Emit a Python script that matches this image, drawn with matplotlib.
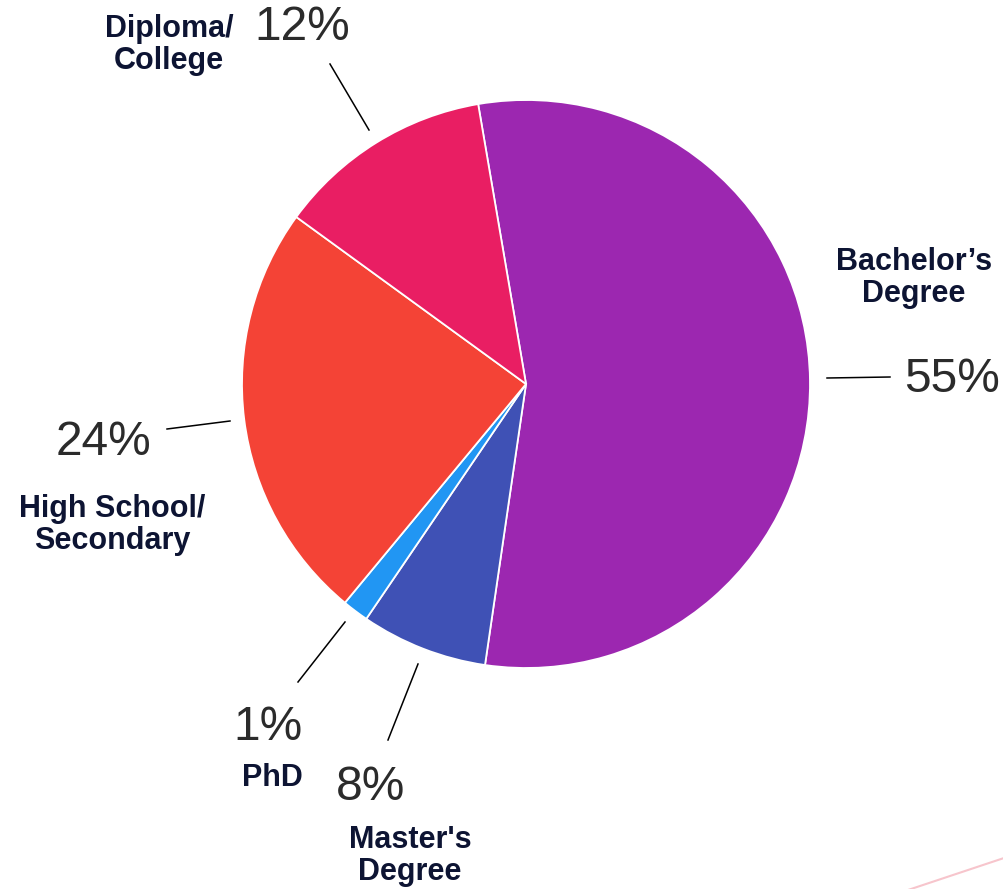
import matplotlib
matplotlib.use("Agg")
import matplotlib.pyplot as plt

categories = ["Bachelor\u2019s\nDegree", "Master's\nDegree", "PhD", "High School/\nSecondary", "Diploma/\nCollege"]
values = [55.0, 7.2, 1.5, 24.0, 12.3]
pct_labels = ["55%", "8%", "1%", "24%", "12%"]
colors = ["#9C27B0", "#3F51B5", "#2196F3", "#F44336", "#E91E63"]

W, H = 1004, 889
fig = plt.figure(figsize=(W / 100, H / 100), dpi=100)
ax = fig.add_axes([0, 0, 1, 1])

def Y(y):
    return H - y

ax.pie(values, colors=colors, startangle=99.7, counterclock=False,
       center=(526, Y(384)), radius=284, frame=True,
       wedgeprops=dict(edgecolor="white", linewidth=1.3))
ax.set_xlim(0, W)
ax.set_ylim(0, H)
ax.set_aspect("equal")
ax.axis("off")

navy = "#0d1433"
grey = "#2b2b2b"
font = "Liberation Sans"

# positions (pixel coords) for label, percent, and leader line per category
cat_pos = [(914, 278), (410, 856), (272, 778), (112, 525), (169, 45)]
pct_pos = [(952, 380), (371, 788), (268, 728), (104, 443), (302, 28)]
lines = [((827, 378), (890, 377)), ((388, 740), (418, 664)), ((298, 682), (345, 622)),
         ((167, 429), (230, 421)), ((330, 64), (369, 130))]

for cat, pct, cp, pp, ln in zip(categories, pct_labels, cat_pos, pct_pos, lines):
    ax.text(cp[0], Y(cp[1]), cat, ha="center", va="center", fontsize=22,
            fontweight="bold", color=navy, family=font, linespacing=1.1)
    ax.text(pp[0], Y(pp[1]), pct, ha="center", va="center", fontsize=34.5,
            color=grey, family=font)
    ax.plot([ln[0][0], ln[1][0]], [Y(ln[0][1]), Y(ln[1][1])], color="black", lw=1.1)

# faint decorative line bottom-right
ax.plot([905, 1004], [Y(891), Y(858)], color="#f7c5cc", lw=1.5)

fig.savefig("out.png", dpi=100)
